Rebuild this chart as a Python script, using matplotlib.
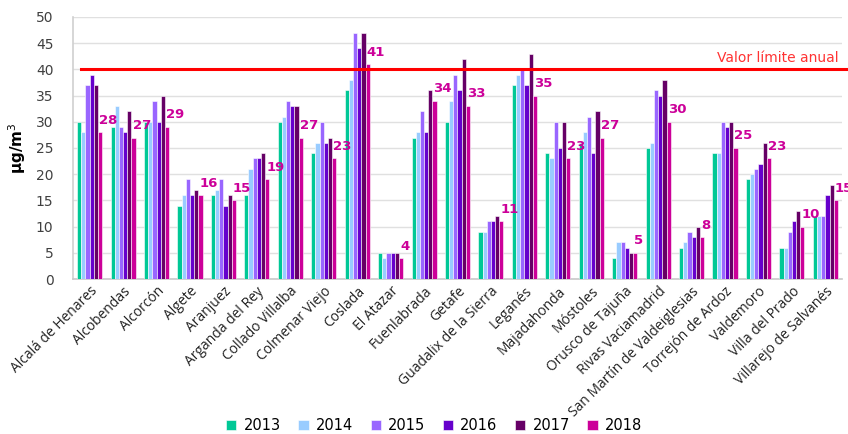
import matplotlib
matplotlib.use('Agg')
import matplotlib.pyplot as plt
import numpy as np

municipios = ['Alcalá de Henares', 'Alcobendas', 'Alcorcón', 'Algete', 'Aranjuez',
              'Arganda del Rey', 'Collado Villalba', 'Colmenar Viejo', 'Coslada',
              'El Atazar', 'Fuenlabrada', 'Getafe', 'Guadalix de la Sierra', 'Leganés',
              'Majadahonda', 'Móstoles', 'Orusco de Tajuña', 'Rivas Vaciamadrid',
              'San Martín de Valdeiglesias', 'Torrejón de Ardoz', 'Valdemoro',
              'Villa del Prado', 'Villarejo de Salvanés']

years = ['2013', '2014', '2015', '2016', '2017', '2018']

v2013 = [30, 29, 30, 14, 16, 16, 30, 24, 36, 5, 27, 30, 9, 37, 24, 26, 4, 25, 6, 24, 19, 6, 12]
v2014 = [28, 33, 30, 16, 17, 21, 31, 26, 38, 4, 28, 34, 9, 39, 23, 28, 7, 26, 7, 24, 20, 6, 12]
v2015 = [37, 29, 34, 19, 19, 23, 34, 30, 47, 5, 32, 39, 11, 40, 30, 31, 7, 36, 9, 30, 21, 9, 12]
v2016 = [39, 28, 30, 16, 14, 23, 33, 26, 44, 5, 28, 36, 11, 37, 25, 24, 6, 35, 8, 29, 22, 11, 16]
v2017 = [37, 32, 35, 17, 16, 24, 33, 27, 47, 5, 36, 42, 12, 43, 30, 32, 5, 38, 10, 30, 26, 13, 18]
v2018 = [28, 27, 29, 16, 15, 19, 27, 23, 41, 4, 34, 33, 11, 35, 23, 27, 5, 30, 8, 25, 23, 10, 15]

colors = ['#00C896', '#99CCFF', '#9966FF', '#6600CC', '#660066', '#CC0099']
limite = 40

series = [v2013, v2014, v2015, v2016, v2017, v2018]

fig = plt.figure(figsize=(8.48, 4.34), dpi=100)
ax = fig.add_axes([0.086, 0.357, 0.907, 0.604])

x = np.arange(len(municipios))
w = 0.125
for i, (vals, col, yr) in enumerate(zip(series, colors, years)):
    ax.bar(x + (i - 2.5) * w, vals, width=w, color=col, edgecolor='white',
           linewidth=0.4, label=yr, zorder=3)

# etiquetas con el valor de 2018
for xi, v in zip(x, v2018):
    ax.annotate(str(v), (xi + 2.5 * w - 0.03, v), xytext=(0, 4), textcoords='offset points',
                ha='left', va='bottom', color='#CC0099', fontsize=9.5,
                fontweight='bold', zorder=5)

ax.axhline(limite, xmin=0.01, xmax=1.01, color='#FF0000', linewidth=2.2,
           clip_on=False, zorder=4)
ax.text(0.995, limite + 0.8, 'Valor límite anual', transform=ax.get_yaxis_transform(),
        ha='right', va='bottom', color='#FF3333', fontsize=10)

ax.set_xlim(-0.5, len(municipios) - 0.5)
ax.set_ylim(0, 50)
ax.set_yticks(range(0, 51, 5))
ax.tick_params(axis='y', labelsize=10, length=0, pad=14, colors='#404040')
ax.tick_params(axis='x', length=0)
ax.set_xticks(x)
ax.set_xticklabels(municipios, rotation=45, ha='right', rotation_mode='anchor',
                   fontsize=10, family='Open Sans', color='#222222')
ax.set_ylabel('µg/m$^3$', fontsize=11, fontweight='bold', labelpad=6, color='#000000')

ax.grid(axis='y', color='#E0E0E0', linewidth=1, zorder=0)
for s in ['top', 'right']:
    ax.spines[s].set_visible(False)
ax.spines['left'].set_color('#D0D0D0')
ax.spines['bottom'].set_color('#C8C8C8')
ax.spines['left'].set_linewidth(1.2)
ax.spines['bottom'].set_linewidth(1.2)

fig.legend(loc='lower center', bbox_to_anchor=(0.512, -0.028), ncol=6, frameon=False,
           fontsize=10.5, handlelength=0.7, handleheight=0.7, columnspacing=1.2,
           handletextpad=0.5)

fig.savefig('out.png', dpi=100)
